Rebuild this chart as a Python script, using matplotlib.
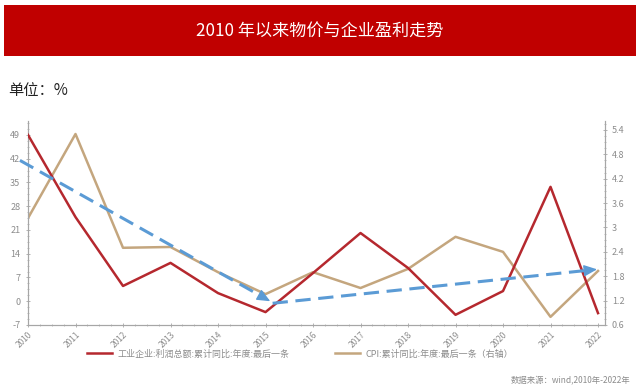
import matplotlib
matplotlib.use("Agg")
import matplotlib.pyplot as plt
from matplotlib.patches import Rectangle
from matplotlib.ticker import MultipleLocator
from matplotlib.lines import Line2D

plt.rcParams['font.family'] = ['Noto Sans CJK SC', 'DejaVu Sans']

years = list(range(2010, 2023))
profit = [49.0, 24.8, 4.5, 11.3, 2.4, -3.2, 8.3, 20.1, 9.8, -4.0, 3.0, 33.7, -3.5]
cpi = [3.23, 5.3, 2.5, 2.52, 1.9, 1.36, 1.9, 1.51, 1.98, 2.77, 2.4, 0.8, 1.93]

left_ticks = [-7, 0, 7, 14, 21, 28, 35, 42, 49]
right_ticks = [0.6, 1.2, 1.8, 2.4, 3.0, 3.6, 4.2, 4.8, 5.4]
right_labels = ["0.6", "1.2", "1.8", "2.4", "3", "3.6", "4.2", "4.8", "5.4"]

# trend arrows (year, left-axis value)
arrow1_start = (2009.83, 41.5)
arrow1_end = (2015.1, 0.0)
arrow2_start = (2015.15, -0.6)
arrow2_end = (2021.98, 9.4)

title = "2010 年以来物价与企业盈利走势"
unit = "单位：%"
label_profit = "工业企业:利润总额:累计同比:年度:最后一条"
label_cpi = "CPI:累计同比:年度:最后一条（右轴）"
source = "数据来源：wind,2010年-2022年"

RED = "#B5282E"
TAN = "#C4A67E"
BLUE = "#5B9BD5"
GRAY = "#8C8C8C"
AXC = "#A6A6A6"

W, H = 640, 390
fig = plt.figure(figsize=(6.4, 3.9), dpi=100)

# banner
fig.patches.append(Rectangle((4 / W, 1 - 56 / H), 632 / W, 51 / H,
                             transform=fig.transFigure, facecolor="#C00000",
                             edgecolor="none", zorder=0))
fig.text(0.5, 1 - 31 / H, title, color="white", fontsize=12.3, ha="center", va="center")
fig.text(8 / W, 1 - 90 / H, unit, color="#222222", fontsize=11, ha="left", va="center")

ax = fig.add_axes([28 / W, 1 - 325 / H, 577 / W, 204 / H])
ax2 = ax.twinx()

ax.plot(years, profit, color=RED, lw=1.8, zorder=3)
ax2.plot(years, cpi, color=TAN, lw=1.8, zorder=2)
ax.set_zorder(ax2.get_zorder() + 1)
ax.patch.set_visible(False)

ax.set_xlim(2010, 2022.147)
ax.set_ylim(-7, 53.1)
ax2.set_ylim(0.6, 5.62)

ax.set_yticks(left_ticks)
ax.set_yticklabels([str(t) for t in left_ticks])
ax.yaxis.set_minor_locator(MultipleLocator(1.75))
ax2.set_yticks(right_ticks)
ax2.set_yticklabels(right_labels)
ax2.yaxis.set_minor_locator(MultipleLocator(0.15))
ax.set_xticks(years)
ax.set_xticklabels([str(y) for y in years], rotation=45, ha="right", rotation_mode="anchor")
ax.xaxis.set_minor_locator(MultipleLocator(0.25))

for a in (ax, ax2):
    for s in a.spines.values():
        s.set_color(AXC)
        s.set_linewidth(0.8)
    a.spines['top'].set_visible(False)
    a.tick_params(colors=AXC, labelcolor=GRAY, labelsize=6.5, length=3, width=0.6)
    a.tick_params(which="minor", colors=AXC, length=2, width=0.5)
ax.tick_params(axis="x", labelsize=6, pad=2)
ax.tick_params(axis="x", which="both", direction="inout")
ax.tick_params(axis="y", which="both", direction="inout", pad=4)
ax2.tick_params(axis="y", which="both", direction="inout")

for st, en in ((arrow1_start, arrow1_end), (arrow2_start, arrow2_end)):
    # dashed shaft stopping short of the tip
    f = 0.96
    mid = (st[0] + (en[0] - st[0]) * f, st[1] + (en[1] - st[1]) * f)
    ax.plot([st[0], mid[0]], [st[1], mid[1]], color=BLUE, lw=2.2,
            linestyle=(0, (5, 2.5)), clip_on=False, zorder=4,
            solid_capstyle="butt", dash_capstyle="butt")
    g = 0.985
    near = (st[0] + (en[0] - st[0]) * g, st[1] + (en[1] - st[1]) * g)
    ax.annotate("", xy=en, xytext=near, xycoords="data", textcoords="data",
                annotation_clip=False,
                arrowprops=dict(arrowstyle="-|>,head_length=0.8,head_width=0.35",
                                color=BLUE, lw=1.0, shrinkA=0, shrinkB=0), zorder=4)

handles = [Line2D([], [], color=RED, lw=1.8), Line2D([], [], color=TAN, lw=1.8)]
fig.legend(handles, [label_profit, label_cpi], loc="center", ncol=2,
           bbox_to_anchor=(300 / W, 1 - 354 / H), frameon=False, fontsize=6.5,
           handlelength=2.8, columnspacing=5.0, labelcolor=GRAY, handletextpad=0.6)

fig.text(630 / W, 1 - 381 / H, source, fontsize=6, color=GRAY, ha="right", va="center")

fig.savefig("out.png", dpi=100)
